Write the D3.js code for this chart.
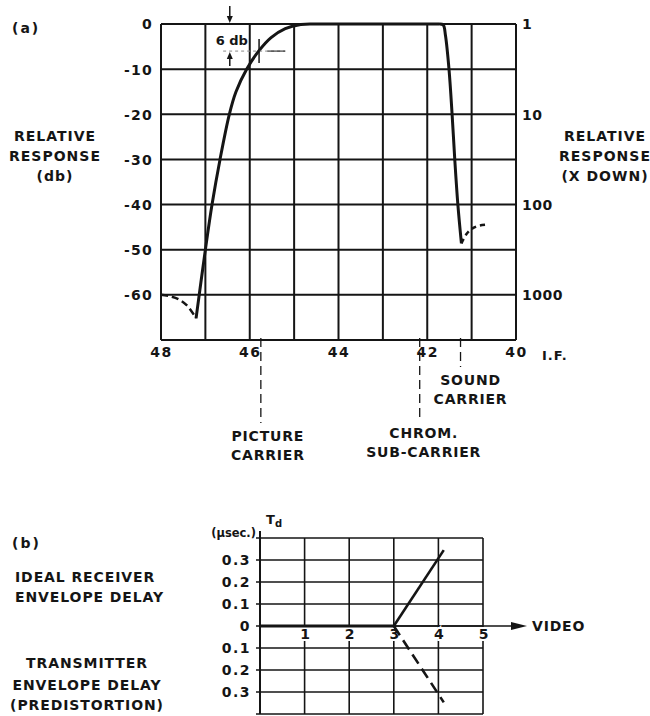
<!DOCTYPE html>
<html>
<head>
<meta charset="utf-8">
<script src="https://cdn.jsdelivr.net/npm/d3@7"></script>
<style>
  html, body { margin: 0; padding: 0; background: #fff; }
  svg text { font-family: "DejaVu Sans", sans-serif; font-weight: bold; fill: #151515; }
</style>
</head>
<body>
<svg id="chart" width="650" height="716"></svg>
<script>
// ---------- DATA : (a) IF response ----------
const freqTicks = [48, 47, 46, 45, 44, 43, 42, 41, 40];
const freqLabels = [48, 46, 44, 42, 40];
const dbTicks = [0, -10, -20, -30, -40, -50, -60];
const ratioTicks = [1, 10, 100, 1000];

const lowDashFreq = [48, 47.8, 47.6, 47.4, 47.21];
const lowDashDb   = [-60, -60.3, -61, -62.5, -65.2];

const riseFreq = [47.21, 47.0, 46.85, 46.67, 46.46, 46.31, 46.07, 45.8, 45.52, 45.2, 44.85, 44.5, 44, 43, 42, 41.72];
const riseDb   = [-65.2, -50, -40, -30, -20, -15, -10, -6, -3, -1, -0.1, 0, 0, 0, 0, 0];

const dropFreq = [41.72, 41.64, 41.59, 41.51, 41.44, 41.38, 41.31, 41.23];
const dropDb   = [0, -0.2, -2.5, -10, -20, -30, -40, -48.6];

const soundDashFreq = [41.23, 41.12, 41.0, 40.85, 40.62];
const soundDashDb   = [-48.6, -46.6, -45.4, -44.7, -44.4];

const carrierFreq = [45.75, 42.17, 41.25];
const carrierText = [["PICTURE", "CARRIER"], ["CHROM.", "SUB-CARRIER"], ["SOUND", "CARRIER"]];

// ---------- DATA : (b) envelope delay ----------
const videoTicks = [1, 2, 3, 4, 5];
const delayTicks = [0.3, 0.2, 0.1, 0, -0.1, -0.2, -0.3];
const delayGrid  = [0.4, 0.3, 0.2, 0.1, 0, -0.1, -0.2, -0.3, -0.4];
const flatX = [0, 3];
const flatY = [0, 0];
const receiverX = [3, 4.12];
const receiverY = [0, 0.345];
const transmitterX = [3, 4.12];
const transmitterY = [0, -0.347];

// ---------- DRAW ----------
const svg = d3.select("#chart");
const ink = "#151515";
const FS = 14;

// ===== (a) =====
const x = d3.scaleLinear().domain([48, 40]).range([161, 516]);
const y = d3.scaleLinear().domain([0, -70]).range([24, 340]);
const yR = d3.scaleLog().domain([1, Math.pow(10, 3.5)]).range([24, 340]);

const ga = svg.append("g");
ga.selectAll("line.v").data(freqTicks).join("line")
  .attr("x1", d => x(d)).attr("x2", d => x(d)).attr("y1", y(0)).attr("y2", y(-70))
  .attr("stroke", ink).attr("stroke-width", 2);
ga.selectAll("line.h").data(dbTicks.concat([-70])).join("line")
  .attr("x1", x(48)).attr("x2", x(40)).attr("y1", d => y(d)).attr("y2", d => y(d))
  .attr("stroke", ink).attr("stroke-width", 2);

const styleTicks = (sel, ls) => sel.attr("font-size", FS).attr("letter-spacing", ls)
  .style("font-family", "DejaVu Sans").style("font-weight", "bold").attr("fill", ink);

const axL = d3.axisLeft(y).tickValues(dbTicks).tickSize(0).tickPadding(8)
  .tickFormat(d => d === 0 ? "0" : "-" + Math.abs(d));
ga.append("g").attr("transform", `translate(${x(48)},0)`).call(axL)
  .call(g => g.select(".domain").remove())
  .selectAll("text").attr("dy", "0.35em").call(styleTicks, 1.2);

const axR = d3.axisRight(yR).tickValues(ratioTicks).tickSize(0).tickPadding(6)
  .tickFormat(d3.format("d"));
ga.append("g").attr("transform", `translate(${x(40)},0)`).call(axR)
  .call(g => g.select(".domain").remove())
  .selectAll("text").attr("dy", "0.35em").call(styleTicks, 0.5);

const axB = d3.axisBottom(x).tickValues(freqLabels).tickSize(0).tickPadding(7)
  .tickFormat(d3.format("d"));
ga.append("g").attr("transform", `translate(0,${y(-70)})`).call(axB)
  .call(g => g.select(".domain").remove())
  .selectAll("text").call(styleTicks, 1.5);
ga.append("text").attr("x", x(40) + 26).attr("y", y(-70) + 20).attr("font-size", 13)
  .attr("letter-spacing", 1).text("I.F.");

// curves
const lineA = (fs, ds, curve) => d3.line().x(i => x(fs[i])).y(i => y(ds[i])).curve(curve)(d3.range(fs.length));
const smooth = d3.curveCatmullRom.alpha(0.5);
ga.append("path").attr("d", lineA(lowDashFreq, lowDashDb, smooth))
  .attr("fill", "none").attr("stroke", ink).attr("stroke-width", 2.5).attr("stroke-dasharray", "7,4");
ga.append("path").attr("d", lineA(riseFreq, riseDb, smooth))
  .attr("fill", "none").attr("stroke", ink).attr("stroke-width", 3).attr("stroke-linejoin", "round");
ga.append("path").attr("d", lineA(dropFreq, dropDb, smooth))
  .attr("fill", "none").attr("stroke", ink).attr("stroke-width", 3).attr("stroke-linejoin", "round");
ga.append("path").attr("d", lineA(soundDashFreq, soundDashDb, smooth))
  .attr("fill", "none").attr("stroke", ink).attr("stroke-width", 2.5).attr("stroke-dasharray", "5,4");

// 6 db annotation
const ax6 = x(46.45), y6 = y(-6), xc = x(45.79);
ga.append("line").attr("x1", ax6).attr("x2", ax6).attr("y1", 6).attr("y2", y(0) - 6)
  .attr("stroke", ink).attr("stroke-width", 1.5);
ga.append("path").attr("d", `M${ax6 - 3},${y(0) - 8} L${ax6 + 3},${y(0) - 8} L${ax6},${y(0) - 1} Z`).attr("fill", ink);
ga.append("line").attr("x1", ax6).attr("x2", ax6).attr("y1", y6 + 15).attr("y2", y6 + 6)
  .attr("stroke", ink).attr("stroke-width", 1.5);
ga.append("path").attr("d", `M${ax6 - 3},${y6 + 8} L${ax6 + 3},${y6 + 8} L${ax6},${y6 + 1} Z`).attr("fill", ink);
ga.append("line").attr("x1", x(46.6)).attr("x2", x(45.2)).attr("y1", y6).attr("y2", y6)
  .attr("stroke", "#888").attr("stroke-width", 1).attr("stroke-dasharray", "3,3");
ga.append("line").attr("x1", x(45.6)).attr("x2", x(45.2)).attr("y1", y6).attr("y2", y6)
  .attr("stroke", ink).attr("stroke-width", 1);
ga.append("line").attr("x1", xc).attr("x2", xc).attr("y1", y6 - 12).attr("y2", y6 + 12)
  .attr("stroke", ink).attr("stroke-width", 1.5);
ga.append("rect").attr("x", ax6 - 14).attr("y", 31).attr("width", 31).attr("height", 16).attr("fill", "#fff");
ga.append("text").attr("x", ax6 + 2).attr("y", 45).attr("text-anchor", "middle")
  .attr("font-size", 13).text("6 db");

// carriers
const carrierLen = [83, 80, 27];
const carrierDx = [7, 4, 10];
carrierFreq.forEach((f, i) => {
  ga.append("line").attr("x1", x(f)).attr("x2", x(f)).attr("y1", y(-70) - 2).attr("y2", y(-70) + carrierLen[i])
    .attr("stroke", ink).attr("stroke-width", 1.3).attr("stroke-dasharray", "9,5");
  carrierText[i].forEach((t, j) => {
    ga.append("text").attr("x", x(f) + carrierDx[i]).attr("y", y(-70) + carrierLen[i] + 18 + j * 19)
      .attr("text-anchor", "middle").attr("font-size", FS).attr("letter-spacing", 0.8).text(t);
  });
});

// side titles
const titleL = ["RELATIVE", "RESPONSE", "(db)"];
titleL.forEach((t, i) => svg.append("text").attr("x", 55).attr("y", 141 + i * 20)
  .attr("text-anchor", "middle").attr("font-size", FS).attr("letter-spacing", 1).text(t));
const titleR = ["RELATIVE", "RESPONSE", "(X DOWN)"];
titleR.forEach((t, i) => svg.append("text").attr("x", 605).attr("y", 141 + i * 20)
  .attr("text-anchor", "middle").attr("font-size", FS).attr("letter-spacing", 1).text(t));
svg.append("text").attr("x", 12).attr("y", 33).attr("font-size", FS).attr("letter-spacing", 2).text("(a)");

// ===== (b) =====
const xb = d3.scaleLinear().domain([0, 5]).range([260, 483]);
const yb = d3.scaleLinear().domain([0.4, -0.4]).range([538, 714]);
const gb = svg.append("g");
gb.selectAll("line.v").data([0].concat(videoTicks)).join("line")
  .attr("x1", d => xb(d)).attr("x2", d => xb(d)).attr("y1", yb(0.4)).attr("y2", yb(-0.4))
  .attr("stroke", ink).attr("stroke-width", d => d === 0 ? 2 : 1.6);
gb.append("line").attr("x1", xb(0)).attr("x2", xb(0)).attr("y1", yb(0.4) - 7).attr("y2", yb(0.4))
  .attr("stroke", ink).attr("stroke-width", 2);
gb.selectAll("line.h").data(delayGrid).join("line")
  .attr("x1", xb(0) - 4).attr("x2", xb(5)).attr("y1", d => yb(d)).attr("y2", d => yb(d))
  .attr("stroke", ink).attr("stroke-width", 1.6);

const axBL = d3.axisLeft(yb).tickValues(delayTicks).tickSize(0).tickPadding(7)
  .tickFormat(d => d === 0 ? "0" : d3.format(".1f")(Math.abs(d)));
gb.append("g").attr("transform", `translate(${xb(0) - 2},0)`).call(axBL)
  .call(g => g.select(".domain").remove())
  .selectAll("text").attr("dy", "0.35em").call(styleTicks, 1.5);

gb.append("line").attr("x1", xb(3)).attr("x2", xb(5) + 30).attr("y1", yb(0)).attr("y2", yb(0))
  .attr("stroke", ink).attr("stroke-width", 1.6);
gb.append("path").attr("d", `M${xb(5) + 28},${yb(0) - 4} L${xb(5) + 44},${yb(0)} L${xb(5) + 28},${yb(0) + 4} Z`).attr("fill", ink);
gb.append("text").attr("x", xb(5) + 49).attr("y", yb(0) + 5).attr("font-size", FS)
  .attr("letter-spacing", 0.8).text("VIDEO");

const axBB = d3.axisBottom(xb).tickValues(videoTicks).tickSize(0).tickPadding(3).tickFormat(d3.format("d"));
gb.append("g").attr("transform", `translate(0,${yb(0)})`).call(axBB)
  .call(g => g.select(".domain").remove())
  .selectAll("text").call(styleTicks, 0)
  .attr("stroke", "#fff").attr("stroke-width", 4).attr("paint-order", "stroke");

const lineB = (xs, ys) => d3.line().x(i => xb(xs[i])).y(i => yb(ys[i]))(d3.range(xs.length));
gb.append("path").attr("d", lineB(flatX, flatY)).attr("stroke", ink).attr("stroke-width", 3).attr("fill", "none");
gb.append("path").attr("d", lineB(receiverX, receiverY)).attr("stroke", ink).attr("stroke-width", 2.6).attr("fill", "none");
gb.append("path").attr("d", lineB(transmitterX, transmitterY)).attr("stroke", ink).attr("stroke-width", 2.6)
  .attr("fill", "none").attr("stroke-dasharray", "11,6");

svg.append("text").attr("x", 12).attr("y", 548).attr("font-size", FS).attr("letter-spacing", 2).text("(b)");
svg.append("text").attr("x", 266).attr("y", 524).attr("font-size", 13).text("T");
svg.append("text").attr("x", 275).attr("y", 527).attr("font-size", 10).text("d");
svg.append("text").attr("x", 256).attr("y", 537).attr("text-anchor", "end").attr("font-size", 11.5).text("(\u03bcsec.)");
[["IDEAL RECEIVER", 582], ["ENVELOPE DELAY", 602]].forEach(([t, yy]) =>
  svg.append("text").attr("x", 15).attr("y", yy).attr("font-size", FS).attr("letter-spacing", 0.9).text(t));
[["TRANSMITTER", 668], ["ENVELOPE DELAY", 690], ["(PREDISTORTION)", 710]].forEach(([t, yy]) =>
  svg.append("text").attr("x", 87).attr("y", yy).attr("text-anchor", "middle").attr("font-size", FS).attr("letter-spacing", 0.9).text(t));
</script>
</body>
</html>
